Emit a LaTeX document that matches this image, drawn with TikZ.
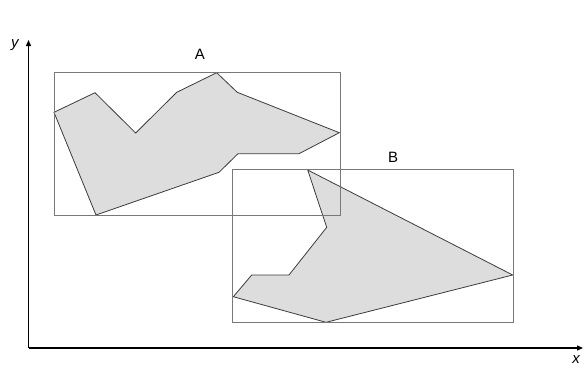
\documentclass[tikz,border=0pt]{standalone}
\usepackage{fontspec}
\setmainfont{Liberation Sans}
\usetikzlibrary{arrows.meta}
\begin{document}
\begin{tikzpicture}[x=1pt,y=-1pt,
  poly/.style={fill={rgb,255:red,221;green,221;blue,221},draw={rgb,255:red,60;green,60;blue,60},line width=0.8pt,line join=miter},
  bbox/.style={draw={rgb,255:red,120;green,120;blue,120},line width=0.9pt},
  axis/.style={draw=black,line width=1.3pt,-{Triangle[length=6pt,width=5pt]}},
  lbl/.style={font=\fontsize{15}{15}\selectfont,inner sep=0pt},
  axlbl/.style={font=\fontsize{15}{15}\selectfont\itshape,inner sep=0pt}]
\useasboundingbox (0,0) rectangle (584,368);
% polygons
\draw[poly] (54,112.3) -- (95,92.7) -- (135.7,133) -- (176.7,92.3) -- (216.7,72.7) -- (237.3,92.3) -- (339.3,132.7) -- (299,153.7) -- (238,153.7) -- (219,172.3) -- (96,215) -- cycle;
\draw[poly] (307.7,170) -- (512.7,275) -- (326,322.3) -- (233.3,296.7) -- (251.7,275) -- (289,275) -- (326.7,227.3) -- cycle;
% bounding rectangles
\draw[bbox] (54,72.3) rectangle (340,215);
\draw[bbox] (232.7,169.7) rectangle (513.3,322.3);
% labels
\node[lbl] (la) at (200,54) {A};
\node[lbl] (lb) at (393,157) {B};
% axes
\coordinate (o) at (28.5,348);
\coordinate (xe) at (583,348);
\coordinate (ye) at (28.5,40);
\draw[axis] (o) -- (xe);
\draw[axis] (o) -- (ye);
\node[axlbl] (lx) at (576,360) {x};
\node[axlbl] (ly) at (15,45) {y};
\end{tikzpicture}
\end{document}
